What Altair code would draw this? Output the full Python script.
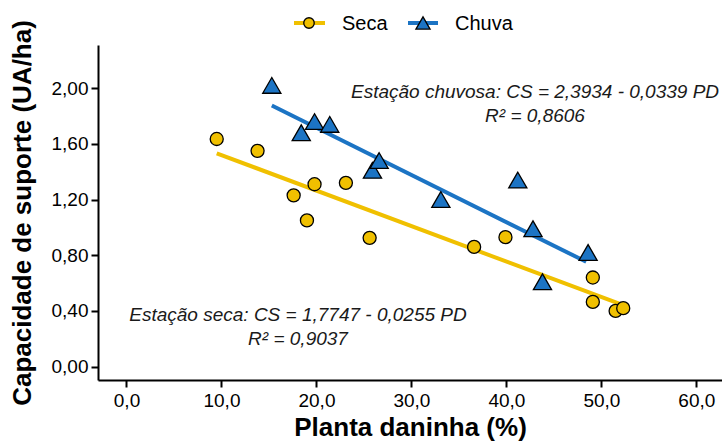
import altair as alt
import pandas as pd

# ---- data ----
series = ["Seca", "Chuva"]
colors = ["#F0C000", "#1C74C4"]
shapes = ["circle", "triangle-up"]

seca_x = [9.5, 13.8, 17.6, 19.0, 19.8, 23.1, 25.6, 36.6, 39.9, 49.1, 49.1, 51.5, 52.3]
seca_y = [1.635, 1.55, 1.23, 1.05, 1.31, 1.32, 0.925, 0.86, 0.93, 0.64, 0.465, 0.40, 0.42]

chuva_x = [15.3, 18.4, 19.8, 21.4, 25.9, 26.6, 33.1, 41.2, 42.8, 43.8, 48.6]
chuva_y = [2.02, 1.68, 1.76, 1.74, 1.41, 1.48, 1.20, 1.34, 0.99, 0.61, 0.82]

# fitted lines (endpoints)
seca_fit_x = [9.5, 52.3]
seca_fit_y = [1.532, 0.441]
chuva_fit_x = [15.3, 48.4]
chuva_fit_y = [1.875, 0.753]

x_ticks = [0, 10, 20, 30, 40, 50, 60]
y_ticks = [0.0, 0.4, 0.8, 1.2, 1.6, 2.0]

eq_chuva = "Estação chuvosa: CS = 2,3934 - 0,0339 PD"
r2_chuva = "R² = 0,8606"
eq_seca = "Estação seca: CS = 1,7747 - 0,0255 PD"
r2_seca = "R² = 0,9037"

# ---- tables ----
pts = pd.DataFrame({
    "x": seca_x + chuva_x,
    "y": seca_y + chuva_y,
    "serie": ["Seca"] * len(seca_x) + ["Chuva"] * len(chuva_x),
})
fit = pd.DataFrame({
    "x": seca_fit_x + chuva_fit_x,
    "y": seca_fit_y + chuva_fit_y,
    "serie": ["Seca"] * 2 + ["Chuva"] * 2,
})
one = pd.DataFrame({"k": [0]})

FONT = "Liberation Sans"

x_scale = alt.Scale(domain=[-3, 62.7], nice=False, zero=False)
y_scale = alt.Scale(domain=[-0.096, 2.31], nice=False, zero=False)

X = alt.X("x:Q", scale=x_scale, axis=alt.Axis(
    title="Planta daninha (%)", values=x_ticks,
    labelExpr="replace(format(datum.value, '.1f'), '.', ',')",
    labelPadding=4, titleBaseline="alphabetic", titleY=55))
Y = alt.Y("y:Q", scale=y_scale, axis=alt.Axis(
    title="Capacidade de suporte (UA/ha)", values=y_ticks,
    labelExpr="replace(format(datum.value, '.2f'), '.', ',')",
    labelPadding=3, titleX=-76, titleBaseline="middle"))

color = alt.Color("serie:N", scale=alt.Scale(domain=series, range=colors), legend=None)
shape = alt.Shape("serie:N", scale=alt.Scale(domain=series, range=shapes), legend=None)
size = alt.Size("serie:N", scale=alt.Scale(domain=series, range=[170, 330]), legend=None)

lines = alt.Chart(fit).mark_line(strokeWidth=4).encode(x=X, y=Y, color=color, detail="serie:N")
points = alt.Chart(pts).mark_point(filled=True, opacity=1, stroke="black", strokeWidth=1.3).encode(
    x=X, y=Y, fill=alt.Fill("serie:N", scale=alt.Scale(domain=series, range=colors), legend=None),
    shape=shape, size=size, order=alt.Order("serie:N", sort="descending"))

def ann(txt, px, py):
    return alt.Chart(one).mark_text(text=txt, font=FONT, fontSize=19, fontStyle="italic",
                                    color="#1a1a1a", align="center", baseline="middle").encode(
        x=alt.value(px), y=alt.value(py))

annotations = [
    ann(eq_chuva, 437, 47), ann(r2_chuva, 437, 71),
    ann(eq_seca, 200, 270), ann(r2_seca, 200, 294),
]

# manual legend (line with marker, as in the reference)
legend_layers = []
leg_pos = [(196, 227, 211, 244, 110), (310, 340, 325, 357, 200)]
for name, col, shp, (l0, l1, cx, tx, sz) in zip(series, colors, shapes, leg_pos):
    legend_layers.append(alt.Chart(one).mark_rule(strokeWidth=4, color=col).encode(
        x=alt.value(l0), x2=alt.value(l1), y=alt.value(-22)))
    legend_layers.append(alt.Chart(one).mark_point(shape=shp, filled=True, fill=col, opacity=1,
                                                   stroke="black", strokeWidth=1.3, size=sz).encode(
        x=alt.value(cx), y=alt.value(-22)))
    legend_layers.append(alt.Chart(one).mark_text(text=name, font=FONT, fontSize=20, color="black",
                                                  align="left", baseline="middle").encode(
        x=alt.value(tx), y=alt.value(-21)))

chart = alt.layer(lines, points, *annotations, *legend_layers).properties(
    width=624, height=335,
    autosize=alt.AutoSizeParams(type="none"),
    padding={"left": 98, "top": 45, "right": 0, "bottom": 61},
    background="white",
).configure_view(stroke=None).configure_axis(
    grid=False, domainColor="black", domainWidth=2, tickColor="black", tickWidth=2, tickSize=7,
    labelFont=FONT, labelFontSize=19, labelColor="black",
    titleFont=FONT, titleFontSize=26, titleFontWeight="bold", titleColor="black",
)

chart.save("out.html", embed_options={"renderer": "svg", "actions": False})
